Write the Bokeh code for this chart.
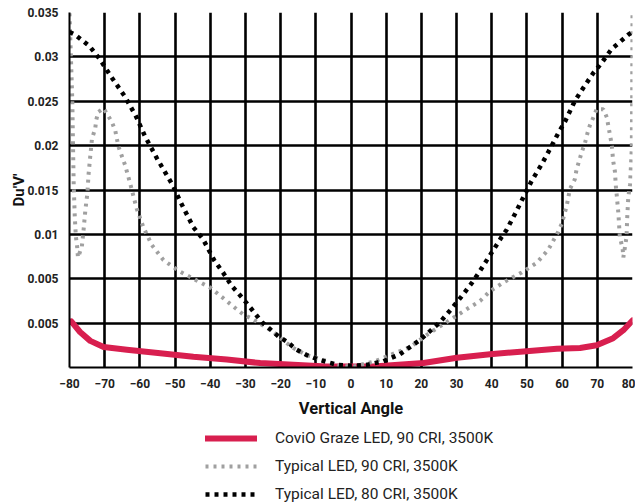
from bokeh.plotting import figure
from bokeh.models import FixedTicker, Legend, LegendItem, Range1d
from bokeh.layouts import column
from bokeh.embed import file_html
from bokeh.resources import INLINE

# ---- data ----
angle_ticks = list(range(-80, 81, 10))
y_ticks = [0.005, 0.01, 0.015, 0.02, 0.025, 0.03, 0.035, 0.04]
y_tick_labels = ["0.005", "0.005", "0.01", "0.015", "0.02", "0.025", "0.03", "0.035"]

covio_angle = [-79.5, -77.0, -74.1, -70.3, -63.7, -54.2, -44.8, -35.3, -25.8, -16.4,
               -6.9, 6.4, 20.6, 30.1, 39.5, 49.0, 58.5, 65.1, 69.8, 74.5, 77.4, 80.0]
covio_duv = [0.0052, 0.0040, 0.0030, 0.0023, 0.0020, 0.0016, 0.0012, 0.0009, 0.0005, 0.0003,
             0.0001, 0.0001, 0.0005, 0.0011, 0.0015, 0.0018, 0.0021, 0.0022, 0.0025, 0.0033,
             0.0042, 0.0053]

cri90_angle = [-80.0, -79.6, -79.2, -79.0, -78.8, -78.5, -78.2, -77.8, -77.6, -76.5,
               -76.0, -75.5, -74.9, -74.6, -74.1, -73.6, -72.7, -72.4, -71.8, -70.3,
               -68.0, -67.0, -66.1, -64.2, -62.8, -60.9, -59.0, -56.6, -53.3, -48.6,
               -44.3, -40.0, -37.2, -32.9, -30.7, -28.2, -25.3, -22.0, -20.1, -16.4,
               -12.6, -7.4, -4.0, 0.7, 6.8, 11.1, 16.8, 22.0, 29.1, 33.4,
               36.7, 39.5, 43.8, 48.5, 52.8, 56.1, 58.9, 59.9, 61.3, 62.2,
               63.6, 64.1, 65.6, 66.5, 67.2, 67.9, 68.9, 69.8, 71.7, 72.7,
               73.1, 73.6, 74.1, 74.5, 75.0, 75.3, 75.5, 76.0, 76.4, 77.2,
               77.4, 78.3, 78.5, 78.8, 79.3, 79.8, 79.9, 79.95, 80.0]
cri90_duv = [0.0399, 0.0350, 0.0300, 0.0250, 0.0205, 0.0170, 0.0148, 0.0135, 0.0124, 0.0136,
             0.0155, 0.0177, 0.0197, 0.0217, 0.0238, 0.0258, 0.0269, 0.0279, 0.0288, 0.0292,
             0.0277, 0.0267, 0.0249, 0.0228, 0.0208, 0.0179, 0.0158, 0.0138, 0.0121, 0.0108,
             0.0099, 0.0090, 0.0081, 0.0067, 0.0060, 0.0055, 0.0048, 0.0040, 0.0033, 0.0022,
             0.0014, 0.0008, 0.0002, 0.0001, 0.0007, 0.0014, 0.0023, 0.0038, 0.0056, 0.0067,
             0.0075, 0.0086, 0.0097, 0.0107, 0.0118, 0.0133, 0.0153, 0.0162, 0.0182, 0.0201,
             0.0212, 0.0223, 0.0243, 0.0253, 0.0264, 0.0273, 0.0282, 0.0291, 0.0291, 0.0282,
             0.0273, 0.0262, 0.0251, 0.0233, 0.0221, 0.0203, 0.0195, 0.0173, 0.0147, 0.0134,
             0.0124, 0.0147, 0.0169, 0.0192, 0.0206, 0.0247, 0.0302, 0.0350, 0.0399]

cri80_angle = [-80.0, -78.4, -74.3, -71.3, -68.4, -64.2, -61.1, -58.6, -55.2, -50.6,
               -48.4, -44.8, -42.1, -38.9, -36.2, -33.9, -31.0, -27.9, -25.3, -20.6,
               -18.2, -15.4, -12.6, -9.3, -4.0, 0.0, 4.5, 9.2, 13.9, 19.6,
               25.3, 28.1, 31.2, 34.3, 36.2, 38.6, 40.4, 42.8, 44.2, 46.6,
               49.0, 51.3, 54.2, 56.1, 58.9, 60.8, 63.7, 66.0, 68.9, 70.8,
               74.1, 76.5, 78.8, 80.0]
cri80_duv = [0.0378, 0.0375, 0.0362, 0.0347, 0.0329, 0.0305, 0.0283, 0.0261, 0.0236, 0.0205,
             0.0186, 0.0158, 0.0145, 0.0121, 0.0106, 0.0092, 0.0079, 0.0064, 0.0051, 0.0035,
             0.0029, 0.0020, 0.0014, 0.0009, 0.0003, 0.0002, 0.0003, 0.0007, 0.0015, 0.0031,
             0.0051, 0.0064, 0.0079, 0.0095, 0.0106, 0.0121, 0.0132, 0.0147, 0.0155, 0.0173,
             0.0192, 0.0210, 0.0229, 0.0243, 0.0264, 0.0277, 0.0301, 0.0315, 0.0332, 0.0341,
             0.0359, 0.0367, 0.0375, 0.0378]

series_labels = ["CoviO Graze LED, 90 CRI, 3500K",
                 "Typical LED, 90 CRI, 3500K",
                 "Typical LED, 80 CRI, 3500K"]

RED = dict(line_color="#d81f4f", line_width=6, line_cap="round", line_join="round")
GRAY = dict(line_color="#a0a0a0", line_width=4, line_dash="3 5")
BLACK = dict(line_color="black", line_width=4.5, line_dash="4 5")

# ---- main chart ----
p = figure(width=635, height=420, output_backend="svg", toolbar_location=None,
           x_range=Range1d(-80, 80), y_range=Range1d(0, 0.04),
           min_border_left=69, min_border_right=3, min_border_top=12, min_border_bottom=47,
           background_fill_color="white", border_fill_color="white")
p.outline_line_color = None

p.xaxis.ticker = FixedTicker(ticks=angle_ticks)
p.yaxis.ticker = FixedTicker(ticks=y_ticks)
p.yaxis.major_label_overrides = {t: l for t, l in zip(y_ticks, y_tick_labels)}

p.xgrid.ticker = FixedTicker(ticks=angle_ticks[1:-1])
p.ygrid.ticker = FixedTicker(ticks=y_ticks)
for g in (p.xgrid, p.ygrid):
    g.grid_line_color = "black"
    g.grid_line_width = 2.6
    g.grid_line_alpha = 1.0

for ax in (p.xaxis, p.yaxis):
    ax.axis_line_color = "black"
    ax.axis_line_width = 2
    ax.major_tick_line_color = None
    ax.minor_tick_line_color = None
    ax.major_label_text_font = "Roboto"
    ax.major_label_text_font_style = "bold"
    ax.major_label_text_font_size = "12px"
    ax.major_label_text_color = "#222222"
    ax.axis_label_text_font = "Roboto"
    ax.axis_label_text_font_style = "bold"
    ax.axis_label_text_color = "#111111"

p.xaxis.major_label_standoff = 5
p.yaxis.major_label_standoff = 5
p.xaxis.axis_label = "Vertical Angle"
p.xaxis.axis_label_text_font_size = "16.5px"
p.xaxis.axis_label_standoff = 8
p.yaxis.axis_label = "Du'V'"
p.yaxis.axis_label_text_font_size = "15px"
p.yaxis.axis_label_standoff = -4

p.line(covio_angle, covio_duv, **RED)
p.line(cri90_angle, cri90_duv, **GRAY)
p.line(cri80_angle, cri80_duv, **BLACK)

# ---- legend strip below the chart (series drawn off-range, only the key shows) ----
q = figure(width=635, height=84, output_backend="svg", toolbar_location=None,
           x_range=Range1d(-80, 80), y_range=Range1d(1, 2),
           x_axis_location=None, y_axis_location=None,
           min_border=0, background_fill_color="white", border_fill_color="white")
q.outline_line_color = None
q.grid.visible = False
s_red = q.line(covio_angle, covio_duv, **RED)
s_gray = q.line(cri90_angle, cri90_duv, **GRAY)
s_black = q.line(cri80_angle, cri80_duv, **BLACK)

legend = Legend(items=[LegendItem(label=series_labels[0], renderers=[s_red]),
                       LegendItem(label=series_labels[1], renderers=[s_gray]),
                       LegendItem(label=series_labels[2], renderers=[s_black])],
                location=(136, 1.5), orientation="vertical",
                glyph_width=52, glyph_height=18, label_height=18, spacing=10,
                padding=0, margin=0, label_standoff=18,
                label_text_font="Roboto", label_text_font_size="15.5px",
                label_text_color="#222222",
                background_fill_alpha=0, border_line_color=None)
q.add_layout(legend)

open("out.html", "w").write(file_html(column(p, q, spacing=0), INLINE))
